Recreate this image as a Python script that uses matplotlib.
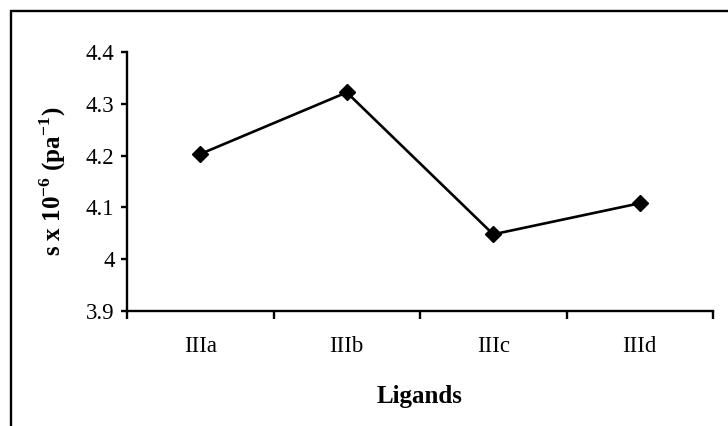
import numpy as np
import matplotlib
matplotlib.use("Agg")
import matplotlib.pyplot as plt
from matplotlib.patches import Rectangle
from matplotlib.ticker import FixedLocator, NullFormatter, FixedFormatter

# data
ligands = ["IIIa", "IIIb", "IIIc", "IIId"]
s_values = [4.203, 4.322, 4.048, 4.108]
y_ticks = [3.9, 4.0, 4.1, 4.2, 4.3, 4.4]

plt.rcParams["font.family"] = ["Liberation Serif", "DejaVu Serif"]
plt.rcParams["mathtext.fontset"] = "custom"
plt.rcParams["mathtext.rm"] = "Liberation Serif"
plt.rcParams["mathtext.bf"] = "Liberation Serif:bold"

W, H = 728, 426
fig = plt.figure(figsize=(W / 100, H / 100), dpi=100)
ax = fig.add_axes([127 / W, 1 - 311 / H, (713 - 127) / W, (311 - 52) / H])

# outer frame (right and bottom edges fall outside the image)
fig.patches.append(Rectangle((11 / W, -0.1), 1.2, 1 - 11 / H + 0.1,
                             transform=fig.transFigure, fill=False,
                             edgecolor="black", linewidth=1.7, clip_on=False))

x = np.arange(len(ligands)) + 0.5
ax.plot(x, s_values, color="black", linewidth=1.9, marker="D",
        markersize=8, markerfacecolor="black", markeredgecolor="black")

ax.set_xlim(0, len(ligands))
ax.set_ylim(y_ticks[0], y_ticks[-1])

ax.xaxis.set_major_locator(FixedLocator(np.arange(len(ligands) + 1)))
ax.xaxis.set_major_formatter(NullFormatter())
ax.xaxis.set_minor_locator(FixedLocator(x))
ax.xaxis.set_minor_formatter(FixedFormatter(ligands))
ax.tick_params(axis="x", which="major", direction="out", length=6, width=1.7)
ax.tick_params(axis="x", which="minor", length=0, pad=18, labelsize=16.5)

ax.set_yticks(y_ticks)
ax.set_yticklabels([f"{v:g}" for v in y_ticks])
ax.tick_params(axis="y", direction="out", length=4, width=1.7, pad=5, labelsize=16.5)

for side in ["top", "right"]:
    ax.spines[side].set_visible(False)
for side in ["left", "bottom"]:
    ax.spines[side].set_linewidth(1.7)

ax.set_xlabel("Ligands", fontsize=18, fontweight="bold", labelpad=20)
ax.set_ylabel(r"s x 10$^{\mathbf{-6}}$ (pa$^{\mathbf{-1}}$)", fontsize=18,
              fontweight="bold", labelpad=13)

fig.savefig("out.png", dpi=100)
